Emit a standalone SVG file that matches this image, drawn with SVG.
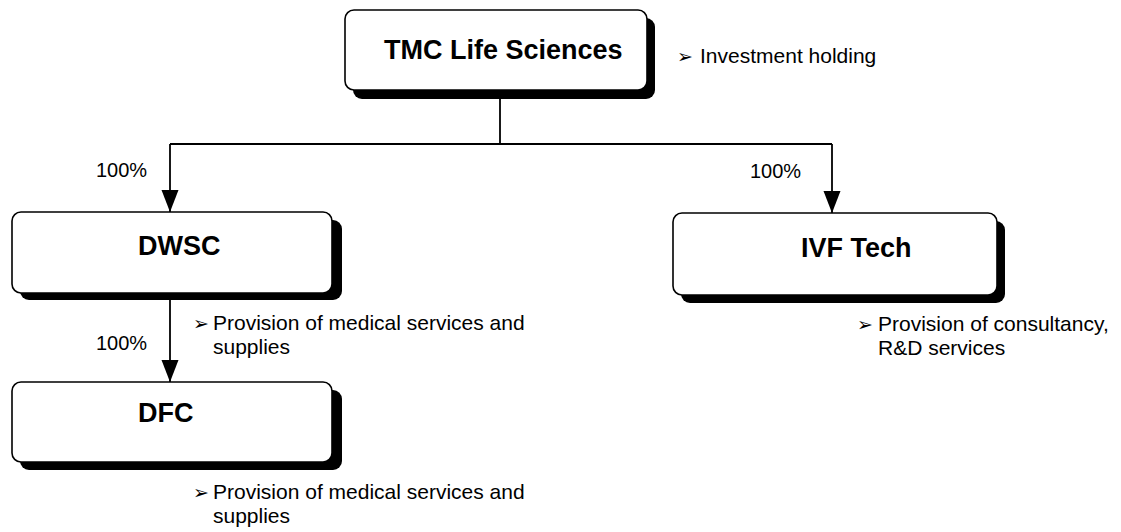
<svg xmlns="http://www.w3.org/2000/svg" width="1121" height="532" viewBox="0 0 1121 532">
  <style>
    .shadow { fill: #000; }
    .box { fill: #fff; stroke: #000; stroke-width: 1.6; }
    .title { font-family: "Liberation Sans", Arial, sans-serif; font-weight: bold; font-size: 27px; fill: #000; }
    .desc { font-family: "Liberation Sans", Arial, sans-serif; font-size: 21px; fill: #000; }
    .bullet { font-family: "DejaVu Sans", sans-serif; font-size: 19px; }
    .pct { font-family: "Liberation Sans", Arial, sans-serif; font-size: 20px; fill: #000; }
    .conn { fill: none; stroke: #000; stroke-width: 1.8; }
  </style>
  <defs>
    <marker id="arrow" markerUnits="userSpaceOnUse" markerWidth="22" markerHeight="18" refX="22" refY="8.5" orient="auto" viewBox="0 0 22 17">
      <path d="M0,0 L22,8.5 L0,17 Z" fill="#000"/>
    </marker>
  </defs>
  <rect width="1121" height="532" fill="#fff"/>

  <g id="connectors">
    <path class="conn" d="M500,99 V144"/>
    <path class="conn" d="M170,144 H832"/>
    <path class="conn" d="M170,144 V212" marker-end="url(#arrow)"/>
    <path class="conn" d="M832,144 V213" marker-end="url(#arrow)"/>
    <path class="conn" d="M170,300 V382" marker-end="url(#arrow)"/>
    <text class="pct" x="96" y="177">100%</text>
    <text class="pct" x="750" y="178">100%</text>
    <text class="pct" x="96" y="350">100%</text>
  </g>

  <g id="tmc">
    <rect class="shadow" x="353" y="18" width="302" height="81" rx="9"/>
    <rect class="box" x="345" y="10" width="302" height="80" rx="9"/>
    <text class="title" x="384" y="59">TMC Life Sciences</text>
    <text class="desc" x="677" y="63"><tspan class="bullet">➢</tspan><tspan x="700">Investment holding</tspan></text>
  </g>

  <g id="dwsc">
    <rect class="shadow" x="20" y="220" width="322" height="80" rx="9"/>
    <rect class="box" x="12" y="212" width="320" height="81" rx="9"/>
    <text class="title" x="138" y="255">DWSC</text>
    <text class="desc" x="193" y="330"><tspan class="bullet">➢</tspan><tspan x="213">Provision of medical services and</tspan></text>
    <text class="desc" x="213" y="354">supplies</text>
  </g>

  <g id="dfc">
    <rect class="shadow" x="20" y="390" width="322" height="80" rx="9"/>
    <rect class="box" x="12" y="382" width="320" height="80" rx="9"/>
    <text class="title" x="138" y="422">DFC</text>
    <text class="desc" x="193" y="499"><tspan class="bullet">➢</tspan><tspan x="213">Provision of medical services and</tspan></text>
    <text class="desc" x="213" y="523">supplies</text>
  </g>

  <g id="ivf">
    <rect class="shadow" x="681" y="221" width="324" height="82" rx="9"/>
    <rect class="box" x="673" y="213" width="324" height="82" rx="9"/>
    <text class="title" x="801" y="257">IVF Tech</text>
    <text class="desc" x="857" y="331"><tspan class="bullet">➢</tspan><tspan x="878">Provision of consultancy,</tspan></text>
    <text class="desc" x="878" y="355">R&amp;D services</text>
  </g>
</svg>
